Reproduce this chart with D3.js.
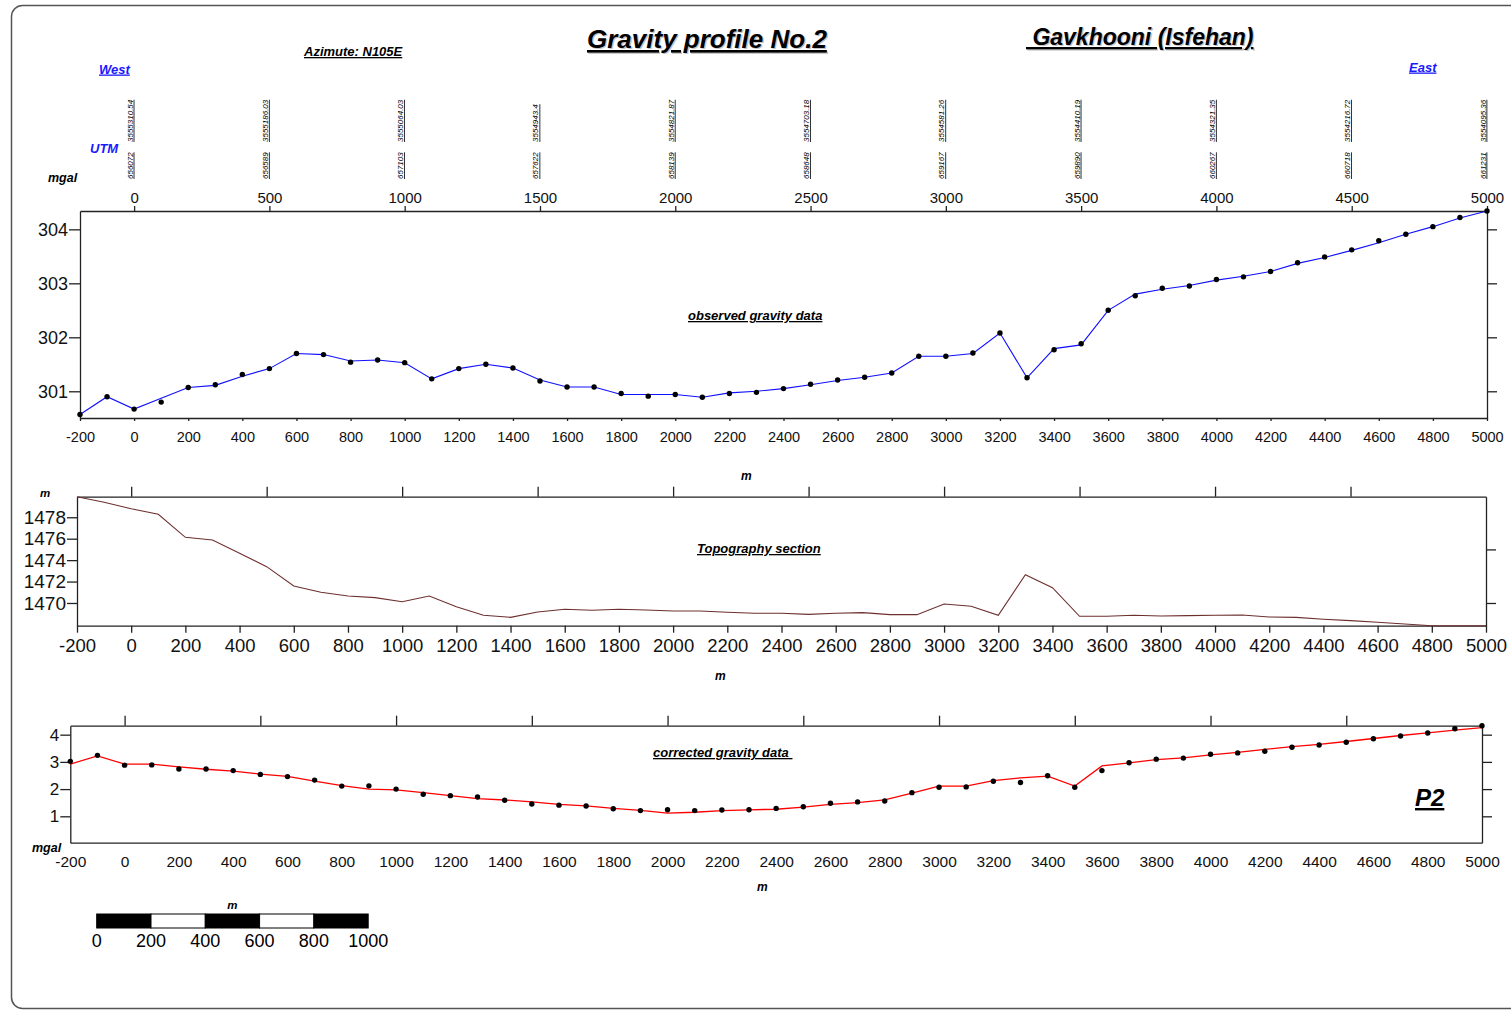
<!DOCTYPE html>
<html><head><meta charset="utf-8">
<script src="https://cdn.jsdelivr.net/npm/d3@7"></script>
<style>
html,body{margin:0;padding:0;background:#fff;}
svg{display:block;font-family:"Liberation Sans",Arial,sans-serif;}
.lbl{font-weight:bold;font-style:italic;}
.ul{text-decoration:underline;}
.axis path,.axis line{stroke:#222;stroke-width:1.3;}
.axis text{fill:#111;}
</style>
</head><body>
<script>
// ---------- data ----------
const distances = [-200,-100,0,100,200,300,400,500,600,700,800,900,1000,1100,1200,1300,1400,1500,1600,1700,1800,1900,2000,2100,2200,2300,2400,2500,2600,2700,2800,2900,3000,3100,3200,3300,3400,3500,3600,3700,3800,3900,4000,4100,4200,4300,4400,4500,4600,4700,4800,4900,5000];

const observedPoints = [300.57,300.90,300.67,300.80,301.07,301.12,301.31,301.42,301.70,301.68,301.54,301.58,301.53,301.23,301.42,301.50,301.43,301.19,301.08,301.08,300.96,300.91,300.94,300.89,300.96,300.98,301.05,301.13,301.21,301.26,301.34,301.65,301.65,301.71,302.08,301.25,301.77,301.88,302.50,302.77,302.91,302.95,303.07,303.12,303.22,303.38,303.49,303.62,303.79,303.91,304.05,304.22,304.34];
const observedLine = [300.57,300.90,300.67,300.87,301.07,301.11,301.28,301.42,301.70,301.68,301.56,301.58,301.53,301.23,301.42,301.50,301.43,301.21,301.08,301.08,300.94,300.94,300.94,300.89,300.97,301.00,301.05,301.12,301.20,301.26,301.34,301.65,301.65,301.70,302.08,301.25,301.79,301.86,302.50,302.80,302.89,302.96,303.06,303.13,303.22,303.37,303.48,303.61,303.75,303.91,304.05,304.21,304.34];

const topography = [1479.92,1479.4,1478.8,1478.28,1476.13,1475.88,1474.64,1473.39,1471.59,1471.0,1470.65,1470.5,1470.12,1470.65,1469.65,1468.85,1468.66,1469.16,1469.41,1469.32,1469.41,1469.35,1469.25,1469.25,1469.13,1469.04,1469.04,1468.94,1469.04,1469.1,1468.91,1468.91,1469.91,1469.69,1468.85,1472.64,1471.43,1468.76,1468.76,1468.85,1468.79,1468.82,1468.85,1468.88,1468.69,1468.66,1468.48,1468.35,1468.2,1468.04,1467.88,1467.88,1467.88];

const correctedPoints = [3.02,3.24,2.88,2.89,2.74,2.74,2.68,2.54,2.46,2.33,2.11,2.12,2.00,1.81,1.76,1.71,1.59,1.45,1.41,1.38,1.28,1.21,1.24,1.21,1.23,1.24,1.29,1.35,1.48,1.53,1.56,1.87,2.07,2.08,2.29,2.24,2.49,2.07,2.68,2.97,3.10,3.14,3.28,3.33,3.39,3.54,3.62,3.72,3.85,3.95,4.06,4.22,4.33];
const correctedLine = [2.92,3.22,2.92,2.92,2.82,2.73,2.66,2.55,2.47,2.29,2.13,2.00,1.97,1.87,1.76,1.65,1.60,1.53,1.44,1.38,1.29,1.22,1.12,1.15,1.21,1.24,1.26,1.34,1.44,1.50,1.60,1.85,2.11,2.11,2.31,2.41,2.48,2.11,2.85,2.96,3.08,3.15,3.26,3.35,3.46,3.56,3.64,3.75,3.86,3.97,4.07,4.17,4.26];

const utmTicks = [0,500,1000,1500,2000,2500,3000,3500,4000,4500,5000];
const utmNorthing = ["3555310.54","3555186.03","3555064.03","3554943.4","3554821.87","3554703.18","3554581.26","3554410.19","3554321.35","3554216.72","3554095.36"];
const utmEasting = ["656072","656589","657103","657622","658139","658648","659167","659890","660267","660718","661231"];

const xTicks200 = [-200,0,200,400,600,800,1000,1200,1400,1600,1800,2000,2200,2400,2600,2800,3000,3200,3400,3600,3800,4000,4200,4400,4600,4800,5000];
const xTicks500 = [0,500,1000,1500,2000,2500,3000,3500,4000,4500];
const obsTicks = [301,302,303,304];
const topoTicks = [1470,1472,1474,1476,1478];
const topoRightTicks = [1470,1475];
const corrTicks = [1,2,3,4];
const scaleBarTicks = [0,200,400,600,800,1000];

// ---------- drawing ----------
const W = 1511, H = 1012;
const fmt = d => String(d);
const svg = d3.select("body").append("svg").attr("width", W).attr("height", H);

svg.append("rect").attr("x", 11.5).attr("y", 5.5).attr("width", 1530).attr("height", 1003)
  .attr("rx", 11).attr("fill", "none").attr("stroke", "#555").attr("stroke-width", 1.5);

function txt(x, y, s, opts) {
  opts = opts || {};
  const t = svg.append("text").attr("x", x).attr("y", y).text(s)
    .attr("font-size", opts.size || 12)
    .attr("fill", opts.fill || "#000")
    .attr("class", (opts.cls || "lbl") + (opts.ul ? " ul" : ""))
    .style("white-space", "pre");
  if (opts.anchor) t.attr("text-anchor", opts.anchor);
  return t;
}
function shadowTxt(x, y, s, size) {
  txt(x + 1.3, y + 1.3, s, {size: size, ul: true, fill: "#c4c4c4"});
  txt(x, y, s, {size: size, ul: true});
}

// Titles
shadowTxt(587, 48, "Gravity profile No.2", 26);
shadowTxt(1026, 45, " Gavkhooni (Isfehan)", 23);
txt(304, 56, "Azimute: N105E", {size: 13, ul: true});
txt(99, 73.5, "West", {size: 13, ul: true, fill: "#1a1aff"});
txt(1409, 71.5, "East", {size: 13, ul: true, fill: "#1a1aff"});
txt(90, 153, "UTM", {size: 13, fill: "#1a1aff"});
txt(48, 182, "mgal", {size: 12.5});

// ---------- Panel 1 : observed gravity ----------
const x1 = d3.scaleLinear().domain([-200, 5000]).range([80, 1487]);
const y1 = d3.scaleLinear().domain([300.505, 304.34]).range([418, 211]);

const gTop = svg.append("g").attr("class", "axis").attr("transform", "translate(0,211)")
  .call(d3.axisTop(x1).tickValues(utmTicks).tickSize(5).tickPadding(3).tickSizeOuter(0).tickFormat(fmt));
gTop.selectAll("text").attr("font-size", 15);
const gB1 = svg.append("g").attr("class", "axis").attr("transform", "translate(0,418)")
  .call(d3.axisBottom(x1).tickValues(xTicks200).tickSize(3).tickPadding(11).tickSizeOuter(0).tickFormat(fmt));
gB1.selectAll("text").attr("font-size", 14.5);
const gL1 = svg.append("g").attr("class", "axis").attr("transform", "translate(80,0)")
  .call(d3.axisLeft(y1).tickValues(obsTicks).tickSize(11).tickPadding(1).tickSizeOuter(0).tickFormat(fmt));
gL1.selectAll("text").attr("font-size", 18);
const gR1 = svg.append("g").attr("class", "axis").attr("transform", "translate(1487,0)")
  .call(d3.axisRight(y1).tickValues(obsTicks).tickSize(10).tickSizeOuter(0).tickFormat(""));
gR1.select("path").attr("stroke", "#666").attr("stroke-width", 2.2);

// UTM labels
utmTicks.forEach((v, i) => {
  const xx = x1(v) - 1.5;
  svg.append("text").attr("transform", `translate(${xx},142) rotate(-90)`)
    .attr("font-size", 8).attr("font-style", "italic").attr("class", "ul").text(utmNorthing[i]);
  svg.append("text").attr("transform", `translate(${xx},179) rotate(-90)`)
    .attr("font-size", 8).attr("font-style", "italic").attr("class", "ul").text(utmEasting[i]);
});

const line1 = d3.line().x((d, i) => x1(distances[i])).y(d => y1(d));
svg.append("path").datum(observedLine).attr("d", line1)
  .attr("fill", "none").attr("stroke", "#1010ff").attr("stroke-width", 1.1);
svg.append("g").selectAll("circle").data(observedPoints).join("circle")
  .attr("cx", (d, i) => x1(distances[i])).attr("cy", d => y1(d)).attr("r", 2.7).attr("fill", "#000");
txt(688, 320, "observed gravity data", {size: 13, ul: true});
txt(741, 480, "m", {size: 12});

// ---------- Panel 2 : topography ----------
const x2 = d3.scaleLinear().domain([-200, 5000]).range([77, 1486]);
const y2 = d3.scaleLinear().domain([1467.88, 1479.92]).range([625.7, 496.7]);

svg.append("g").attr("class", "axis").attr("transform", "translate(0,496.7)")
  .call(d3.axisTop(x2).tickValues(xTicks500).tickSize(10).tickSizeOuter(0).tickFormat(""));
const gB2 = svg.append("g").attr("class", "axis").attr("transform", "translate(0,625.7)")
  .call(d3.axisBottom(x2).tickValues(xTicks200).tickSize(7).tickPadding(6).tickSizeOuter(0).tickFormat(fmt));
gB2.selectAll("text").attr("font-size", 18.5);
const gL2 = svg.append("g").attr("class", "axis").attr("transform", "translate(77,0)")
  .call(d3.axisLeft(y2).tickValues(topoTicks).tickSize(10).tickPadding(1).tickSizeOuter(0).tickFormat(fmt));
gL2.selectAll("text").attr("font-size", 19);
const gR2 = svg.append("g").attr("class", "axis").attr("transform", "translate(1486,0)")
  .call(d3.axisRight(y2).tickValues(topoRightTicks).tickSize(10).tickSizeOuter(0).tickFormat(""));
gR2.select("path").attr("stroke", "#666").attr("stroke-width", 2.2);

const line2 = d3.line().x((d, i) => x2(distances[i])).y(d => y2(d));
svg.append("path").datum(topography).attr("d", line2)
  .attr("fill", "none").attr("stroke", "#6e2f2f").attr("stroke-width", 1.1);
txt(40, 497, "m", {size: 11.5});
txt(697, 553, "Topography section", {size: 13, ul: true});
txt(715, 680, "m", {size: 12});

// ---------- Panel 3 : corrected gravity ----------
const x3 = d3.scaleLinear().domain([-200, 5000]).range([70.3, 1482]);
const y3 = d3.scaleLinear().domain([0.03, 4.33]).range([842.7, 725.7]);

svg.append("g").attr("class", "axis").attr("transform", "translate(0,725.7)")
  .call(d3.axisTop(x3).tickValues(xTicks500).tickSize(10).tickSizeOuter(0).tickFormat(""));
const gB3 = svg.append("g").attr("class", "axis").attr("transform", "translate(0,842.7)")
  .call(d3.axisBottom(x3).tickValues(xTicks200).tickSize(0).tickPadding(13).tickSizeOuter(0).tickFormat(fmt));
gB3.selectAll("text").attr("font-size", 15.5);
const gL3 = svg.append("g").attr("class", "axis").attr("transform", "translate(70.3,0)")
  .call(d3.axisLeft(y3).tickValues(corrTicks).tickSize(10).tickPadding(1).tickSizeOuter(0).tickFormat(fmt));
gL3.selectAll("text").attr("font-size", 17);
const gR3 = svg.append("g").attr("class", "axis").attr("transform", "translate(1482,0)")
  .call(d3.axisRight(y3).tickValues(corrTicks).tickSize(10).tickSizeOuter(0).tickFormat(""));
gR3.select("path").attr("stroke", "#666").attr("stroke-width", 2.2);

const line3 = d3.line().x((d, i) => x3(distances[i])).y(d => y3(d));
svg.append("path").datum(correctedLine).attr("d", line3)
  .attr("fill", "none").attr("stroke", "#ff0000").attr("stroke-width", 1.3);
svg.append("g").selectAll("circle").data(correctedPoints).join("circle")
  .attr("cx", (d, i) => x3(distances[i])).attr("cy", d => y3(d)).attr("r", 2.7).attr("fill", "#000");
txt(653, 757, "corrected gravity data ", {size: 13, ul: true});
txt(32, 852, "mgal", {size: 12.5});
txt(757, 891, "m", {size: 12});
txt(1415, 806, "P2", {size: 24, ul: true});

// ---------- scale bar ----------
const sx0 = 96.7;
const sbScale = d3.scaleLinear().domain([0, 1000]).range([sx0, sx0 + (x3(1000) - x3(0))]);
const sb = svg.append("g");
for (let i = 0; i < scaleBarTicks.length - 1; i++) {
  sb.append("rect").attr("x", sbScale(scaleBarTicks[i])).attr("y", 914)
    .attr("width", sbScale(scaleBarTicks[i + 1]) - sbScale(scaleBarTicks[i])).attr("height", 14)
    .attr("fill", i % 2 === 0 ? "#000" : "#fff").attr("stroke", "#000").attr("stroke-width", 1);
}
scaleBarTicks.forEach(v => {
  sb.append("text").attr("x", sbScale(v)).attr("y", 946.5).attr("text-anchor", "middle")
    .attr("font-size", 18).text(fmt(v));
});
txt(sbScale(500), 909, "m", {size: 11.5, anchor: "middle"});
</script>
</body></html>
